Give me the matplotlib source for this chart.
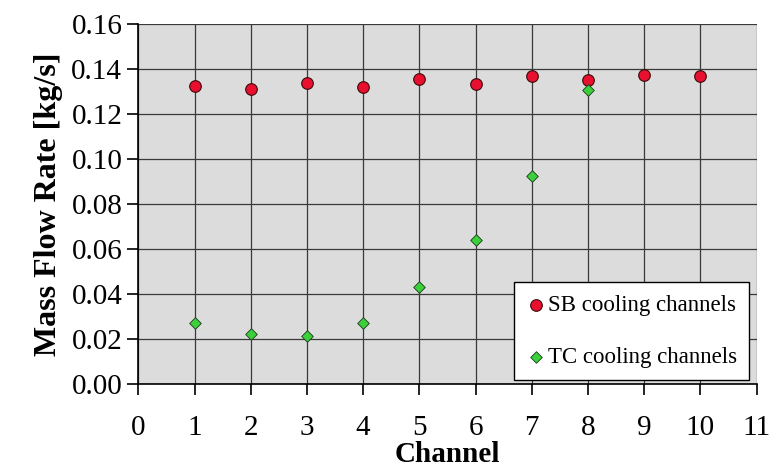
import matplotlib
matplotlib.use("Agg")
import matplotlib.pyplot as plt
import numpy as np

########################################################################
channels = [1, 2, 3, 4, 5, 6, 7, 8, 9, 10]
sb_flow = [0.1324, 0.1311, 0.1336, 0.1321, 0.1353, 0.1332, 0.1366, 0.1349, 0.1373, 0.1366]
tc_channels = [1, 2, 3, 4, 5, 6, 7, 8]
tc_flow = [0.0270, 0.0223, 0.0213, 0.0270, 0.0431, 0.0640, 0.0926, 0.1307]

########################################################################
plt.rcParams['font.family'] = ['Liberation Serif', 'DejaVu Serif']
fontsize = 21

fig = plt.figure(figsize=(7.71, 4.76), dpi=100)
ax = fig.add_axes([0.1794, 0.193, 0.802, 0.757])
ax.set_facecolor('#dcdcdc')

ax.scatter(channels, sb_flow, s=70, marker='o', color='#e8102e',
           edgecolors='#3a0a0a', linewidths=0.8, zorder=3, label='SB cooling channels')
ax.scatter(tc_channels, tc_flow, s=35, marker='D', color='#3ccf3c',
           edgecolors='#1a3a1a', linewidths=0.6, zorder=3, label='TC cooling channels')

ax.set_xlim(0, 11)
ax.set_ylim(0, 0.16)
ax.set_xticks(np.arange(0, 12, 1))
ax.set_yticks(np.arange(0, 0.161, 0.02))
ax.set_yticklabels(['%.2f' % v for v in np.arange(0, 0.161, 0.02)])
ax.grid(True, color='#3a3a3a', linewidth=0.9)
ax.set_axisbelow(True)

for s in ['top', 'right']:
    ax.spines[s].set_visible(False)
ax.spines['left'].set_linewidth(1.2)
ax.spines['bottom'].set_linewidth(1.2)
ax.tick_params(axis='both', labelsize=fontsize, length=8, width=1.2, direction='out')
ax.tick_params(axis='x', pad=14)

ax.set_xlabel('Channel', fontsize=fontsize, fontweight='bold', labelpad=0)
ax.set_ylabel('Mass Flow Rate [kg/s]', fontsize=23, fontweight='bold', labelpad=6)

leg = ax.legend(loc='lower right', fontsize=16.5, frameon=True, fancybox=False,
                edgecolor='black', framealpha=1, handletextpad=0.1,
                labelspacing=1.35, borderpad=0.55, handlelength=0.8,
                borderaxespad=0, bbox_to_anchor=(0.988, 0.011))
leg.get_frame().set_linewidth(1.0)

fig.savefig('out.png', dpi=100)
